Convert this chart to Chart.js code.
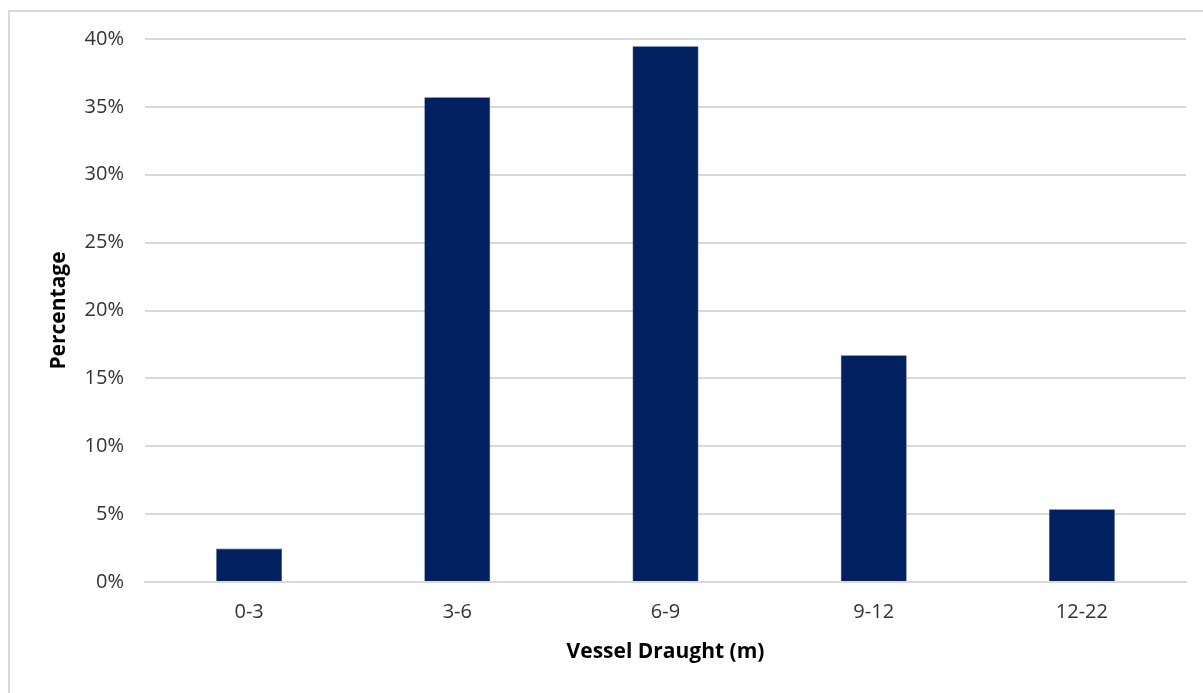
<!DOCTYPE html>
<html>
<head>
<meta charset="utf-8">
<script src="https://cdn.jsdelivr.net/npm/chart.js@4/dist/chart.umd.min.js"></script>
<style>
  html, body { margin: 0; padding: 0; background: #ffffff; }
  #wrap { position: relative; width: 1203px; height: 693px; overflow: hidden; }
  #frame { position: absolute; left: 8px; top: 10px; width: 1200px; height: 700px;
           border: 2px solid #d9d9d9; box-sizing: border-box; pointer-events: none; }
  canvas { position: absolute; left: 0; top: 0; }
</style>
</head>
<body>
<div id="wrap">
  <canvas id="chart" width="1203" height="693"></canvas>
  <div id="frame"></div>
</div>
<script>
// Draught classes (metres) and share of vessels in each class (%)
const categories = ['0-3', '3-6', '6-9', '9-12', '12-22'];
const shares = [2.46, 35.70, 39.46, 16.71, 5.36];
const yTicks = [0, 5, 10, 15, 20, 25, 30, 35, 40];

const FONT = '"Open Sans", Carlito, Calibri, sans-serif';

new Chart(document.getElementById('chart'), {
  type: 'bar',
  data: {
    labels: categories,
    datasets: [{
      data: shares,
      backgroundColor: '#002060',
      borderColor: '#2f4f8f',
      borderWidth: 0.6,
      categoryPercentage: 0.317,
      barPercentage: 1.0
    }]
  },
  options: {
    responsive: false,
    animation: false,
    devicePixelRatio: 1,
    layout: { padding: { top: 39, right: 17, left: 0, bottom: 0 } },
    plugins: { legend: { display: false }, tooltip: { enabled: false } },
    scales: {
      x: {
        grid: { display: false, drawTicks: false },
        border: { display: true, color: '#d9d9d9', width: 2 },
        ticks: { color: '#333333', font: { family: FONT, size: 20 }, padding: 18 },
        title: {
          display: true, text: 'Vessel Draught (m)', color: '#000000',
          font: { family: FONT, size: 21, weight: 'bold' },
          padding: { top: 0, bottom: 28 }
        },
        afterFit: (s) => { s.height = 693 - 582; }
      },
      y: {
        min: 0, max: 40,
        afterBuildTicks: (s) => { s.ticks = yTicks.map(v => ({ value: v })); },
        grid: { color: '#d9d9d9', lineWidth: 2, drawTicks: false },
        border: { display: false },
        ticks: {
          color: '#333333', font: { family: FONT, size: 20 }, padding: 21,
          callback: (v) => v + '%'
        },
        title: {
          display: true, text: 'Percentage', color: '#000000',
          font: { family: FONT, size: 21, weight: 'bold' },
          padding: { top: 46, bottom: 0 }
        },
        afterFit: (s) => { s.width = 145; }
      }
    }
  }
});
</script>
</body>
</html>
